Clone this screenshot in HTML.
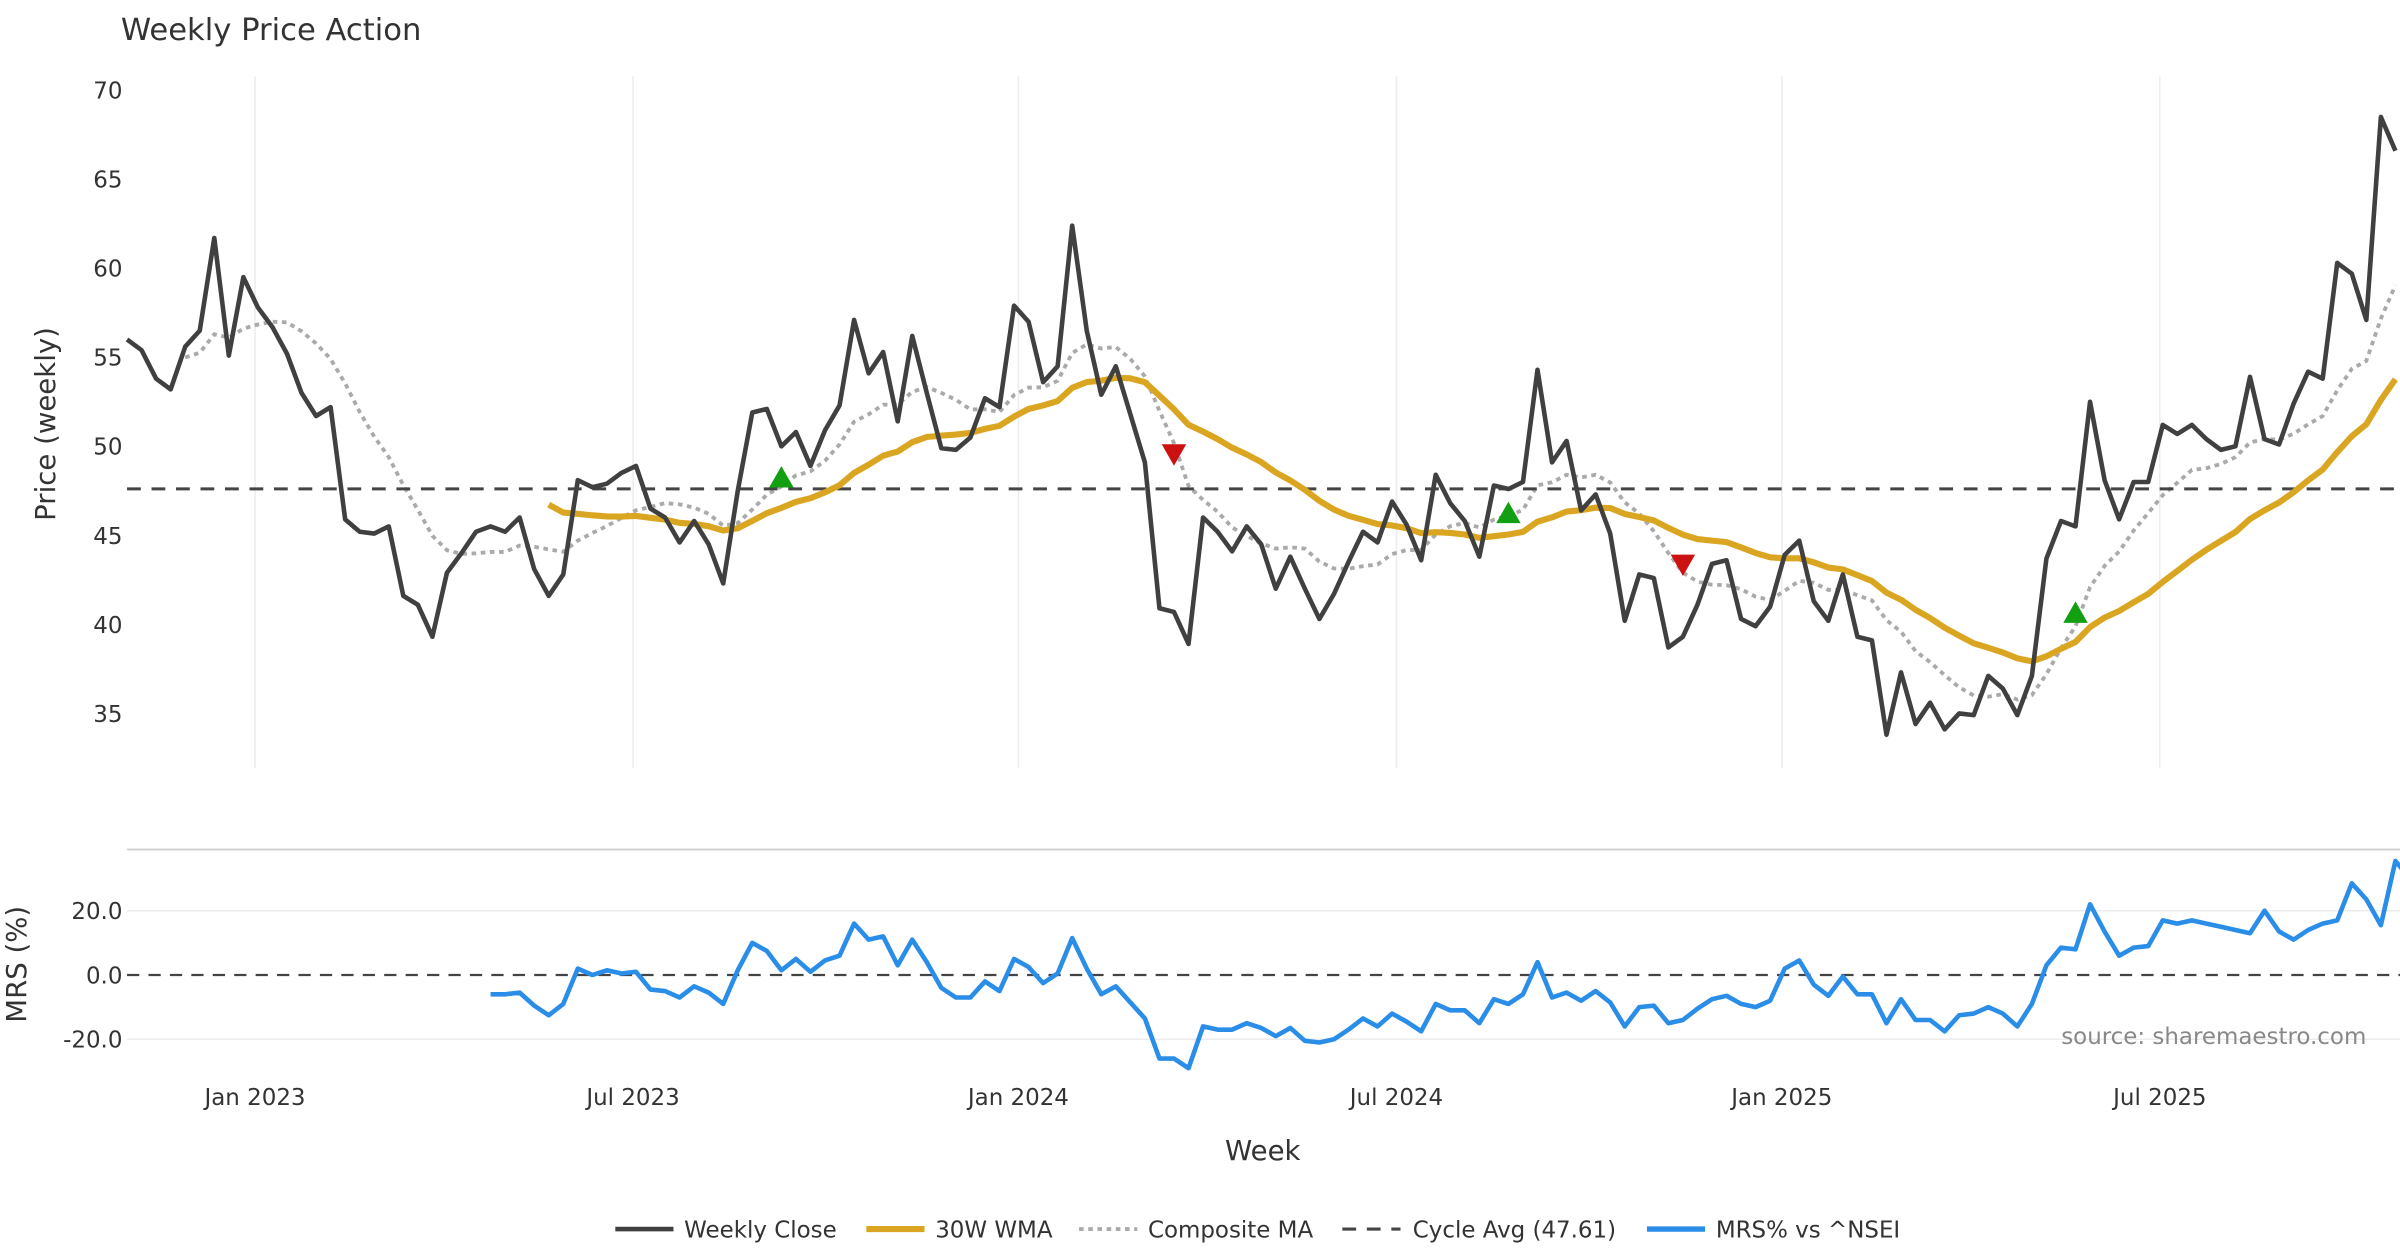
<!DOCTYPE html>
<html><head><meta charset="utf-8"><style>
html,body{margin:0;padding:0;background:#fff;}
svg{display:block;font-family:"DejaVu Sans","Liberation Sans",sans-serif;}
</style></head><body>
<svg id="chart" width="2400" height="1260" viewBox="0 0 1568 823.2" xmlns="http://www.w3.org/2000/svg">
<rect x="0" y="0" width="1568" height="823.2" fill="#fff"/>
<text x="79" y="26" font-size="20" fill="#333">Weekly Price Action</text>
<g id="grid"></g>
<g id="series"></g>
<g id="axes"></g>
<text x="1546" y="682" font-size="15" fill="#888" text-anchor="end">source: sharemaestro.com</text>
<text x="825" y="758" font-size="18" fill="#333" text-anchor="middle">Week</text>
<text transform="translate(36,277) rotate(-90)" font-size="18" fill="#333" text-anchor="middle">Price (weekly)</text>
<text transform="translate(17,630) rotate(-90)" font-size="18" fill="#333" text-anchor="middle">MRS (%)</text>
<g>
 <g><line x1="402" y1="803" x2="440" y2="803" stroke="#404040" stroke-width="3"/><text x="447" y="808.5" font-size="15" fill="#333">Weekly Close</text></g>
 <g><line x1="566" y1="803" x2="604" y2="803" stroke="#DAA520" stroke-width="4"/><text x="611" y="808.5" font-size="15" fill="#333">30W WMA</text></g>
 <g><line x1="705" y1="803" x2="743" y2="803" stroke="#aaa" stroke-width="2.5" stroke-dasharray="3,3"/><text x="750" y="808.5" font-size="15" fill="#333">Composite MA</text></g>
 <g><line x1="877" y1="803" x2="915" y2="803" stroke="#444" stroke-width="2" stroke-dasharray="9,7"/><text x="923" y="808.5" font-size="15" fill="#333">Cycle Avg (47.61)</text></g>
 <g><line x1="1076" y1="803" x2="1114" y2="803" stroke="#2a8de8" stroke-width="3.5"/><text x="1121" y="808.5" font-size="15" fill="#333">MRS% vs ^NSEI</text></g>
</g>
</svg>
<script>
const closeVals=[56,55.4,53.8,53.2,55.6,56.5,61.7,55.1,59.5,57.8,56.7,55.2,53,51.7,52.2,45.9,45.2,45.1,45.5,41.6,41.1,39.3,42.9,44,45.2,45.5,45.2,46,43.1,41.6,42.8,48.1,47.7,47.9,48.5,48.9,46.5,46.0,44.6,45.8,44.5,42.3,47.5,51.9,52.1,50,50.8,48.9,50.9,52.3,57.1,54.1,55.3,51.4,56.2,53,49.9,49.8,50.5,52.7,52.2,57.9,57,53.6,54.5,62.4,56.5,52.9,54.5,51.8,49.1,40.9,40.7,38.9,46,45.2,44.1,45.5,44.5,42,43.8,42,40.3,41.7,43.5,45.2,44.6,46.9,45.6,43.6,48.4,46.8,45.8,43.8,47.8,47.6,48,54.3,49.1,50.3,46.4,47.3,45.1,40.2,42.8,42.6,38.7,39.3,41.1,43.4,43.6,40.3,39.9,41,43.9,44.7,41.3,40.2,42.8,39.3,39.1,33.8,37.3,34.4,35.6,34.1,35,34.9,37.1,36.4,34.9,37.1,43.7,45.8,45.5,52.5,48.1,45.9,48,48,51.2,50.7,51.2,50.4,49.8,50,53.9,50.4,50.1,52.4,54.2,53.8,60.3,59.7,57.1,68.5,66.6];
const mrsStart=25;
const mrsVals=[-6,-6,-5.5,-9.5,-12.5,-9,2,0,1.5,0.5,1,-4.5,-5,-7,-3.5,-5.5,-9,1.5,10,7.5,1.5,5,1,4.5,6,16,11,12,3,11,4,-4,-7,-7,-2,-5,5,2.5,-2.5,0.5,11.5,2,-6,-3.5,-8.5,-13.5,-26,-26,-29,-16,-17,-17,-15,-16.5,-19,-16.5,-20.5,-21,-20,-17,-13.5,-16,-12,-14.5,-17.5,-9,-11,-11,-15,-7.5,-9,-6,4,-7,-5.5,-8,-5,-8.5,-16,-10,-9.5,-15,-14,-10.5,-7.5,-6.5,-9,-10,-8,2,4.5,-3,-6.5,-0.5,-6,-6,-15,-7.5,-14,-14,-17.5,-12.5,-12,-10,-12,-16,-9,3,8.5,8,22,13.5,6,8.5,9,17,16,17,16,15,14,13,20,13.5,11,14,16,17,28.5,23.5,15.5,35.5,30];
const cycleAvg=47.61;
const priceTicks=[35,40,45,50,55,60,65,70];
const mrsTicks=[-20,0,20];
const xTickLabels=["Jan 2023","Jul 2023","Jan 2024","Jul 2024","Jan 2025","Jul 2025"];
const xTickWeeks=[8.8,34.8,61.3,87.3,113.8,139.8];
const sigWeeks=[45,95,134,72,107];
const sigVals=[48.2,46.2,40.6,49.6,43.4];
const sigTypes=["buy","buy","buy","sell","sell"];

const NS="http://www.w3.org/2000/svg";
const N=closeVals.length;
const step=(1565-83)/(N-1);
const xS=i=>83+i*step;
const yP=v=>59+(70-v)*11.63;
const yM=v=>637-v*2.1;
function mk(tag,attrs,parent){const e=document.createElementNS(NS,tag);for(const k in attrs)e.setAttribute(k,attrs[k]);parent.appendChild(e);return e;}
const grid=document.getElementById('grid'),ser=document.getElementById('series'),ax=document.getElementById('axes');

const wma=[];for(let i=0;i<N;i++){if(i<29){wma.push(null);continue;}let s=0,w=0;for(let k=0;k<30;k++){const wt=30-k;s+=closeVals[i-k]*wt;w+=wt;}wma.push(s/w);}
const comp=[];let e=closeVals[0];const a=2/11;for(let i=0;i<N;i++){e=i===0?closeVals[0]:a*closeVals[i]+(1-a)*e;let sm=0,c=0;for(let k=Math.max(0,i-7);k<=i;k++){sm+=closeVals[k];c++;}comp.push(i<4?null:(e+sm/c)/2);}

xTickWeeks.forEach((w,i)=>{
 const x=xS(w);
 const g=mk('line',{x1:x,y1:50,x2:x,y2:502,stroke:'#ececec','stroke-width':1},grid);
 
 
 const t=mk('text',{x:x,y:722,'font-size':15,fill:'#333','text-anchor':'middle'},ax);t.textContent=xTickLabels[i];
 
 
});
priceTicks.forEach(v=>{
 const t=mk('text',{x:80,y:yP(v)+5.5,'font-size':15,fill:'#333','text-anchor':'end'},ax);t.textContent=v;
 
 
});
mrsTicks.forEach(v=>{
 if(v!==0){const g=mk('line',{x1:83,y1:yM(v),x2:1568,y2:yM(v),stroke:'#ececec','stroke-width':1},grid);
 
 }
 const t=mk('text',{x:80,y:yM(v)+5.5,'font-size':15,fill:'#333','text-anchor':'end'},ax);t.textContent=v.toFixed(1);
 
 
});
const sep=mk('line',{x1:83,y1:555,x2:1568,y2:555,stroke:'#ccc','stroke-width':1.2},grid);


const zl=mk('line',{x1:83,y1:yM(0),x2:1568,y2:yM(0),stroke:'#444','stroke-width':1.5,'stroke-dasharray':'8,6'},grid);



function path(vals,xf,yf){let d='';let pen=false;vals.forEach((v,i)=>{if(v==null){pen=false;return;}d+=(pen?'L':'M')+xf(i).toFixed(1)+','+yf(v).toFixed(1);pen=true;});return d;}
const cp=mk('path',{d:path(comp,xS,yP),fill:'none',stroke:'#aaa','stroke-width':2.5,'stroke-dasharray':'3,3'},ser);


const ca=mk('line',{x1:83,y1:yP(cycleAvg),x2:1568,y2:yP(cycleAvg),stroke:'#444','stroke-width':2,'stroke-dasharray':'9,7'},ser);


const wp=mk('path',{d:path(wma,xS,yP),fill:'none',stroke:'#DAA520','stroke-width':4,'stroke-linejoin':'round'},ser);


const clp=mk('path',{d:path(closeVals,xS,yP),fill:'none',stroke:'#404040','stroke-width':3,'stroke-linejoin':'round'},ser);


const mp=mk('path',{d:path(mrsVals,i=>xS(i+mrsStart),yM),fill:'none',stroke:'#2a8de8','stroke-width':3,'stroke-linejoin':'round'},ser);


sigWeeks.forEach((w,i)=>{
 const x=xS(w),y=yP(sigVals[i]);const s=8;
 const pts=sigTypes[i]==='buy'?`${x-s},${y+6} ${x+s},${y+6} ${x},${y-8}`:`${x-s},${y-6} ${x+s},${y-6} ${x},${y+8}`;
 const t=mk('polygon',{points:pts,fill:sigTypes[i]==='buy'?'#12a012':'#cc1111'},ser);
 
 
});
</script>
</body></html>
